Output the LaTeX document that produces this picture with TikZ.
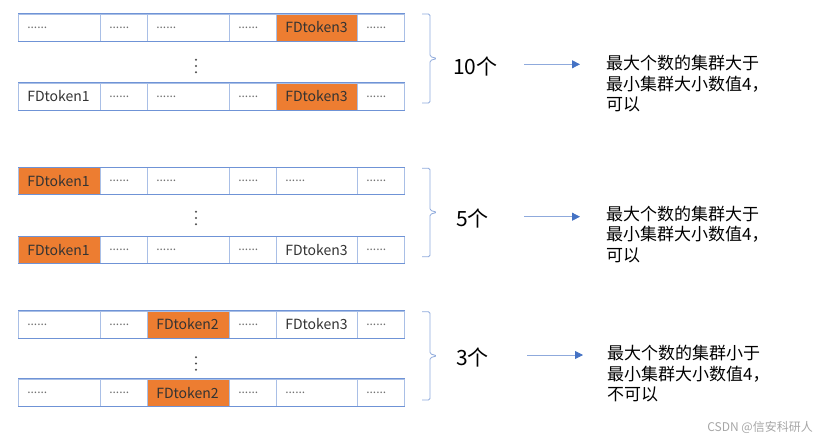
\documentclass[tikz,border=0pt]{standalone}
\usepackage{fontspec}
\setmainfont{Noto Sans CJK SC}
\usetikzlibrary{arrows.meta,positioning,calc}
\definecolor{hotfill}{HTML}{ED7D31}
\definecolor{gridln}{HTML}{A9BFE6}
\definecolor{rowln}{HTML}{6F93D6}
\definecolor{brcln}{HTML}{8FAADC}
\definecolor{headblue}{HTML}{4472C4}
\definecolor{dotgray}{HTML}{707070}
\newcommand{\dd}{\textcolor{dotgray}{\fontsize{12}{14}\selectfont ......}}
\tikzset{
  tok/.style={draw=gridln,rectangle,line width=0.6pt,fill=white,anchor=west,minimum height=27pt,
    inner xsep=9pt,inner ysep=0pt,align=left,text=black!80,font=\fontsize{14}{16}\selectfont},
  hot/.style={fill=hotfill},
  plain/.style={},
  rowedge/.style={draw=rowln,line width=0.9pt},
  brc/.style={draw=brcln,line width=0.8pt,rounded corners=1.5pt},
  cnt/.style={anchor=west,inner sep=0pt,font=\fontsize{21}{24}\selectfont},
  arr/.style={-{Triangle[length=8pt,width=8pt,color=headblue]},draw=brcln,line width=0.8pt},
  note/.style={anchor=west,inner sep=0pt,align=left,font=\fontsize{17}{20.5}\selectfont},
  lbl/.style={anchor=east,inner sep=0pt,text=black!35,font=\fontsize{12}{14}\selectfont}
}

\begin{document}
\begin{tikzpicture}[x=1pt,y=-1pt]
  \useasboundingbox (0,0) rectangle (827,442);

  % Token rows: row name / y centre / cells (style/text)
  \foreach \rn/\ry/\cells in {
      r1/27.5/{plain/\dd,plain/\dd,plain/\dd,plain/\dd,hot/FDtoken3,plain/\dd},
      r2/96.5/{plain/FDtoken1,plain/\dd,plain/\dd,plain/\dd,hot/FDtoken3,plain/\dd},
      r3/180.8/{hot/FDtoken1,plain/\dd,plain/\dd,plain/\dd,plain/\dd,plain/\dd},
      r4/250/{hot/FDtoken1,plain/\dd,plain/\dd,plain/\dd,plain/FDtoken3,plain/\dd},
      r5/324.5/{plain/\dd,plain/\dd,hot/FDtoken2,plain/\dd,plain/FDtoken3,plain/\dd},
      r6/392.7/{plain/\dd,plain/\dd,hot/FDtoken2,plain/\dd,plain/\dd,plain/\dd}} {
    \foreach \cst/\ctxt [count=\ci] in \cells {
      \pgfmathsetmacro{\cx}{{18,100,147,229,276,357}[\ci-1]}
      \pgfmathsetmacro{\cw}{{82,47,82,47,81,47}[\ci-1]}
      \pgfmathsetmacro{\ctw}{\cw-18}
      \node[tok,\cst,minimum width=\cw pt,text width=\ctw pt] (\rn c\ci) at (\cx,\ry) {\ctxt};
    }
    \draw[rowedge] (\rn c1.north west) -- (\rn c6.north east);
    \draw[rowedge] (\rn c1.south west) -- (\rn c6.south east);
  }

  % Vertical dots between rows
  \foreach \n/\dy in {d1/66, d2/218, d3/363.5} {
    \coordinate (\n) at (196,\dy);
    \foreach \k in {-1,0,1}
      \fill[black!70] ($(\n)+(0,6.3*\k)$) circle (1.1pt);
  }

  % Braces
  \foreach \bt/\bb/\bm in {14/103/58.5, 168.3/256.7/212.3, 311.7/400/355.8}
    \draw[brc] (422,\bt) -- (430,\bt) -- (430,\bm-2) -- (437,\bm) -- (430,\bm+2) -- (430,\bb) -- (422,\bb);

  % Counts
  \node[cnt] (n1) at (453,66) {10个};
  \node[cnt] (n2) at (456,218.3) {5个};
  \node[cnt] (n3) at (456,357) {3个};

  % Arrows
  \coordinate (a1s) at (524,64.3);   \coordinate (a1e) at (580,64.3);
  \coordinate (a2s) at (524,216.7);  \coordinate (a2e) at (580,216.7);
  \coordinate (a3s) at (527,355);    \coordinate (a3e) at (583,355);
  \draw[arr] (a1s) -- (a1e);
  \draw[arr] (a2s) -- (a2e);
  \draw[arr] (a3s) -- (a3e);

  % Results
  \node[note] (t1) at (606,84) {最大个数的集群大于\\最小集群大小数值4，\\可以};
  \node[note] (t2) at (606,234.5) {最大个数的集群大于\\最小集群大小数值4，\\可以};
  \node[note] (t3) at (607,374) {最大个数的集群小于\\最小集群大小数值4，\\不可以};

  \node[lbl] (wm) at (813,427) {CSDN @信安科研人};

\end{tikzpicture}
\end{document}
